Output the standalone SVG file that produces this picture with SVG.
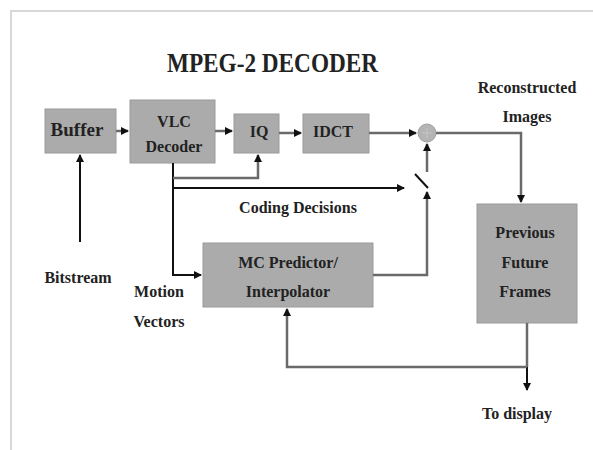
<svg xmlns="http://www.w3.org/2000/svg" width="593" height="450" viewBox="0 0 593 450">
<style>
.box{fill:#ababab;stroke:#9a9a9a;stroke-width:1}
.t{font-family:"Liberation Serif","Times New Roman",serif;font-weight:bold;fill:#222;text-anchor:middle}
.lb{font-size:16px}
.ln{fill:none;stroke:#6a6a6a;stroke-width:2.5}
.lk{fill:none;stroke:#111;stroke-width:2}
</style>
<defs>
<marker id="ah" markerWidth="8" markerHeight="8" refX="7" refY="4" orient="auto" markerUnits="userSpaceOnUse">
<path d="M0,0 L8,4 L0,8 Z" fill="#111"/>
</marker>
</defs>
<rect width="593" height="450" fill="#fff"/>
<path d="M11,450 V11 H593" fill="none" stroke="#d8d8d8" stroke-width="2"/>
<text class="t" x="272.5" y="72" font-size="27" textLength="211" lengthAdjust="spacingAndGlyphs">MPEG-2 DECODER</text>

<g id="buffer"><rect class="box" x="45" y="109" width="71" height="44"/><text class="t" font-size="19" x="77" y="136">Buffer</text></g>
<g id="vlc"><rect class="box" x="130" y="100" width="85" height="63"/><text class="t lb" x="174" y="127">VLC</text><text class="t lb" x="174" y="152">Decoder</text></g>
<g id="iq"><rect class="box" x="234" y="114" width="45" height="39"/><text class="t lb" x="259" y="137">IQ</text></g>
<g id="idct"><rect class="box" x="303" y="114" width="66" height="39"/><text class="t lb" x="333" y="137">IDCT</text></g>
<g id="sum"><circle cx="427" cy="133" r="9" fill="#b4b4b4" stroke="#a0a0a0"/><path d="M422,133 H432 M427,128 V138" stroke="#c4c4c4" stroke-width="1"/></g>
<g id="mc"><rect class="box" x="203" y="243" width="170" height="64"/><text class="t lb" x="288" y="268">MC Predictor/</text><text class="t lb" x="288" y="297">Interpolator</text></g>
<g id="frames"><rect class="box" x="477" y="204" width="100" height="119"/><text class="t lb" x="525" y="238">Previous</text><text class="t lb" x="525" y="268">Future</text><text class="t lb" x="525" y="297">Frames</text></g>

<g id="labels">
<text class="t lb" x="527" y="93">Reconstructed</text>
<text class="t lb" x="527" y="122">Images</text>
<text class="t lb" x="298" y="213">Coding Decisions</text>
<text class="t lb" x="78" y="283">Bitstream</text>
<text class="t lb" x="159" y="297">Motion</text>
<text class="t lb" x="159" y="327">Vectors</text>
<text class="t lb" x="517" y="419">To display</text>
</g>

<g id="connectors">
<path class="ln" d="M116,131 H128" marker-end="url(#ah)"/>
<path class="ln" d="M215,131 H232" marker-end="url(#ah)"/>
<path class="ln" d="M279,133 H301" marker-end="url(#ah)"/>
<path class="ln" d="M369,133 H416" marker-end="url(#ah)"/>
<path class="ln" d="M436,133 H521 V202" marker-end="url(#ah)"/>
<path class="lk" d="M80,242 V155" marker-end="url(#ah)"/>
<path class="lk" d="M173,163 V275 H201" marker-end="url(#ah)"/>
<path class="ln" d="M173,178 H258 V155" marker-end="url(#ah)"/>
<path class="lk" d="M173,188 H404" marker-end="url(#ah)"/>
<path class="lk" d="M415,174 L428,188" stroke-width="2.5"/>
<path class="ln" d="M427,172 V144" marker-end="url(#ah)"/>
<path class="ln" d="M373,275 H427 V192" marker-end="url(#ah)"/>
<path class="ln" d="M527,323 V367"/>
<path class="lk" d="M527,367 V390" marker-end="url(#ah)"/>
<path class="ln" d="M527,367 H287 V309" marker-end="url(#ah)"/>
</g>
</svg>
